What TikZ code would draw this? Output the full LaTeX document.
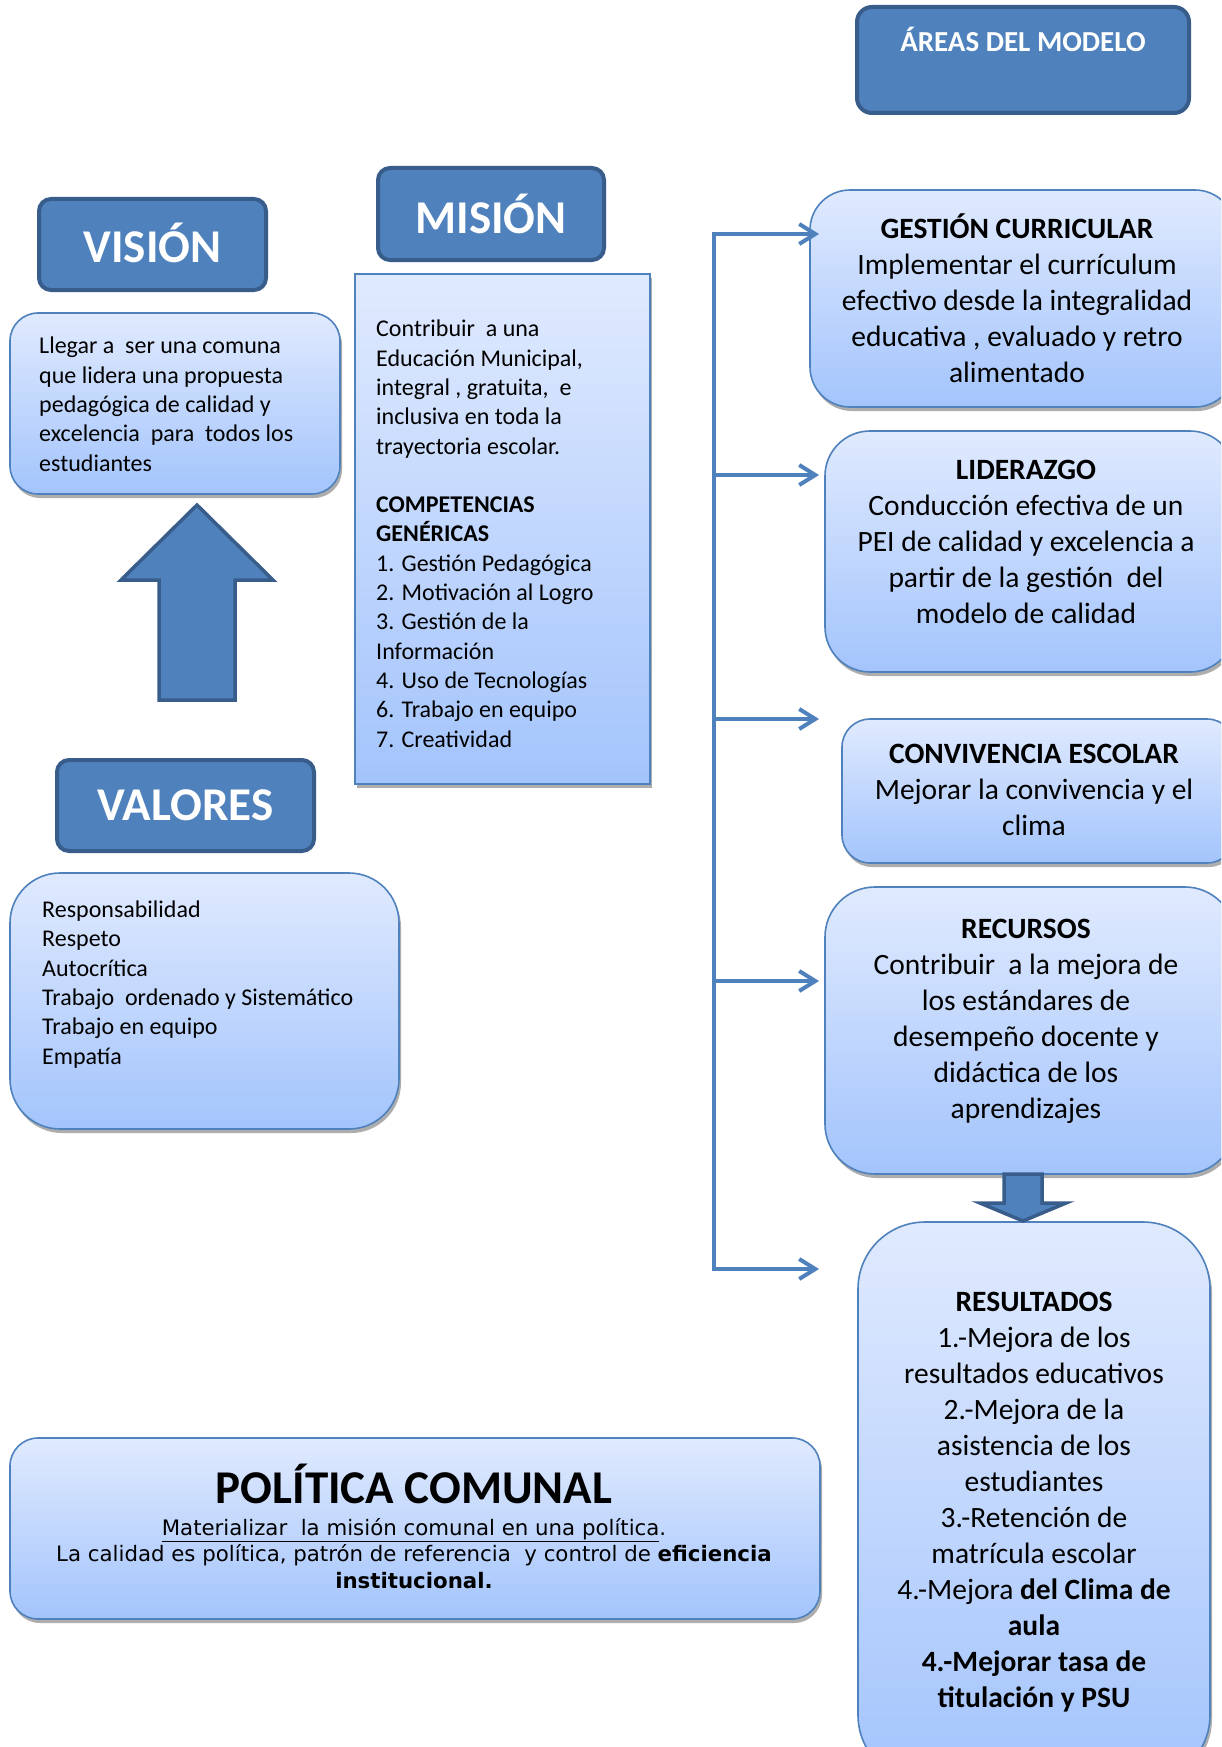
\documentclass[tikz,border=0pt]{standalone}
\usepackage{fontspec}
\setmainfont{Carlito}
\newfontfamily\polfont{DejaVu Sans}
\usetikzlibrary{arrows.meta,shadows}
\definecolor{hdrfill}{RGB}{79,129,189}
\definecolor{hdredge}{RGB}{56,93,138}
\definecolor{boxtop}{RGB}{224,234,254}
\definecolor{boxbot}{RGB}{163,196,252}
\definecolor{boxedge}{RGB}{79,129,189}
\begin{document}
\begin{tikzpicture}[x=1pt,y=-1pt,
  hdr/.style={draw=hdredge,fill=hdrfill,line width=4pt,rounded corners=12pt,inner sep=0pt},
  hdrtxt/.style={text=white,font=\fontsize{47}{56}\selectfont\bfseries,inner sep=0pt},
  lbox/.style={draw=boxedge,line width=1.6pt,top color=boxtop,bottom color=boxbot,inner sep=0pt,
    drop shadow={shadow xshift=2pt,shadow yshift=-4pt,fill=black!40,opacity=0.8}},
  lefttxt/.style={anchor=base west,align=left,inner sep=0pt,font=\fontsize{24}{29.3}\selectfont},
  righttxt/.style={anchor=base,align=center,inner sep=0pt,font=\fontsize{29.5}{36}\selectfont},
  conn/.style={draw=hdrfill,line width=4pt},
  connarrow/.style={conn,-{Straight Barb[length=16pt,width=20pt]}},
  blockarrow/.style={fill=hdrfill,draw=hdredge,line width=3.5pt,line join=miter}
]
\clip (0,0) rectangle (1221,1747);
\fill[white] (0,0) rectangle (1221,1747);

% header boxes
\node[hdr,rounded corners=15pt,minimum width=332pt,minimum height=106pt] (areas) at (1023,60) {};
\node[hdrtxt,font=\fontsize{29}{35}\selectfont\bfseries,anchor=base] (areastxt) at (1023,52) {ÁREAS DEL MODELO};
\node[hdr,minimum width=227pt,minimum height=91pt] (vision) at (152.5,244.5) {};
\node[hdrtxt] (visiontitle) at ([yshift=2pt]vision.center) {VISIÓN};
\node[hdr,minimum width=226pt,minimum height=92pt] (mision) at (491,214) {};
\node[hdrtxt] (misiontitle) at (mision.center) {MISIÓN};
\node[hdr,minimum width=257pt,minimum height=91pt] (valores) at (185.5,805.5) {};
\node[hdrtxt] (valorestitle) at (valores.center) {VALORES};

% left light boxes (text anchored at the baseline of its last line)
\node[lbox,rounded corners=28pt,minimum width=330pt,minimum height=181pt] (visionbox) at (175,403.5) {};
\node[lefttxt] (visiontxt) at (39,471) {Llegar a\ \ ser una comuna\\que lidera una propuesta\\pedagógica de calidad y\\excelencia\ \ para\ \ todos los\\estudiantes};

\node[lbox,rounded corners=0pt,line width=1.3pt,minimum width=295pt,minimum height=510pt] (misionbox) at (502.5,529) {};
\node[lefttxt] (misiontxt) at (376,747) {Contribuir\ \ a una\\Educación Municipal,\\integral , gratuita,\ \ e\\inclusiva en toda la\\trayectoria escolar.\\[29.3pt]\textbf{COMPETENCIAS}\\\textbf{GENÉRICAS}\\1. Gestión Pedagógica\\2. Motivación al Logro\\3. Gestión de la\\Información\\4. Uso de Tecnologías\\6. Trabajo en equipo\\7. Creatividad};

\node[lbox,rounded corners=50pt,minimum width=389pt,minimum height=256pt] (valoresbox) at (204.5,1001) {};
\node[lefttxt] (valorestxt) at (42,1064) {Responsabilidad\\Respeto\\Autocrítica\\Trabajo\ \ ordenado y Sistemático\\Trabajo en equipo\\Empatía};

% up arrow
\draw[blockarrow] (197,505) -- (273,580) -- (235,580) -- (235,700) -- (159,700) -- (159,580) -- (121,580) -- cycle;

% right boxes
\node[lbox,rounded corners=40pt,minimum width=425pt,minimum height=217pt] (gestion) at (1022.5,298.5) {};
\node[righttxt] (gestiontxt) at (1017,382) {\textbf{GESTIÓN CURRICULAR}\\Implementar el currículum\\efectivo desde la integralidad\\educativa , evaluado y retro\\alimentado};

\node[lbox,rounded corners=45pt,minimum width=410pt,minimum height=241pt] (liderazgo) at (1030,551.5) {};
\node[righttxt] (liderazgotxt) at (1026,623) {\textbf{LIDERAZGO}\\Conducción efectiva de un\\PEI de calidad y excelencia a\\partir de la gestión\ \ del\\modelo de calidad};

\node[lbox,rounded corners=28pt,minimum width=393pt,minimum height=144pt] (convivencia) at (1038.5,791) {};
\node[righttxt] (convivenciatxt) at (1034,835) {\textbf{CONVIVENCIA ESCOLAR}\\Mejorar la convivencia y el\\clima};

\node[lbox,rounded corners=50pt,minimum width=410pt,minimum height=287pt] (recursos) at (1030,1030.5) {};
\node[righttxt] (recursostxt) at (1026,1118) {\textbf{RECURSOS}\\Contribuir\ \ a la mejora de\\los estándares de\\desempeño docente y\\didáctica de los\\aprendizajes};

\node[lbox,rounded corners=67pt,minimum width=352pt,minimum height=560pt] (resultados) at (1034,1502) {};
\node[righttxt] (resultadostxt) at (1034,1707) {\textbf{RESULTADOS}\\1.-Mejora de los\\resultados educativos\\2.-Mejora de la\\asistencia de los\\estudiantes\\3.-Retención de\\matrícula escolar\\4.-Mejora \textbf{del Clima de}\\\textbf{aula}\\\textbf{4.-Mejorar tasa de}\\\textbf{titulación y PSU}};

% down arrow
\draw[blockarrow] (1004,1174) -- (1042,1174) -- (1042,1203) -- (1066,1203) -- (1023,1221) -- (980,1203) -- (1004,1203) -- cycle;

% politica comunal
\node[lbox,rounded corners=28pt,minimum width=810pt,minimum height=181pt] (politica) at (415,1528.5) {};
\node[anchor=base,inner sep=0pt,font=\fontsize{47}{56}\selectfont\bfseries] (politicatitle) at (414,1503) {POLÍTICA COMUNAL};
\node[anchor=base,align=center,inner sep=0pt,font=\polfont\fontsize{21.3}{26.5}\selectfont] (politicatxt) at (414,1588) {\underline{Materializar\ \ la misión comunal en una política}.\\La calidad es política, patrón de referencia\ \ y control de \textbf{eficiencia}\\\textbf{institucional.}};

% connectors
\coordinate (trunktop) at (714,234);
\coordinate (trunkbot) at (714,1269);
\coordinate (tip1) at (819,234);
\coordinate (tip2) at (819,475);
\coordinate (tip3) at (819,719);
\coordinate (tip4) at (819,981);
\coordinate (tip5) at (819,1269);
\draw[conn,line cap=rect] (trunktop) -- (trunkbot);
\draw[connarrow] (trunktop) -- (tip1);
\draw[connarrow] (tip2 -| trunktop) -- (tip2);
\draw[connarrow] (tip3 -| trunktop) -- (tip3);
\draw[connarrow] (tip4 -| trunktop) -- (tip4);
\draw[connarrow] (trunkbot) -- (tip5);
\end{tikzpicture}
\end{document}
